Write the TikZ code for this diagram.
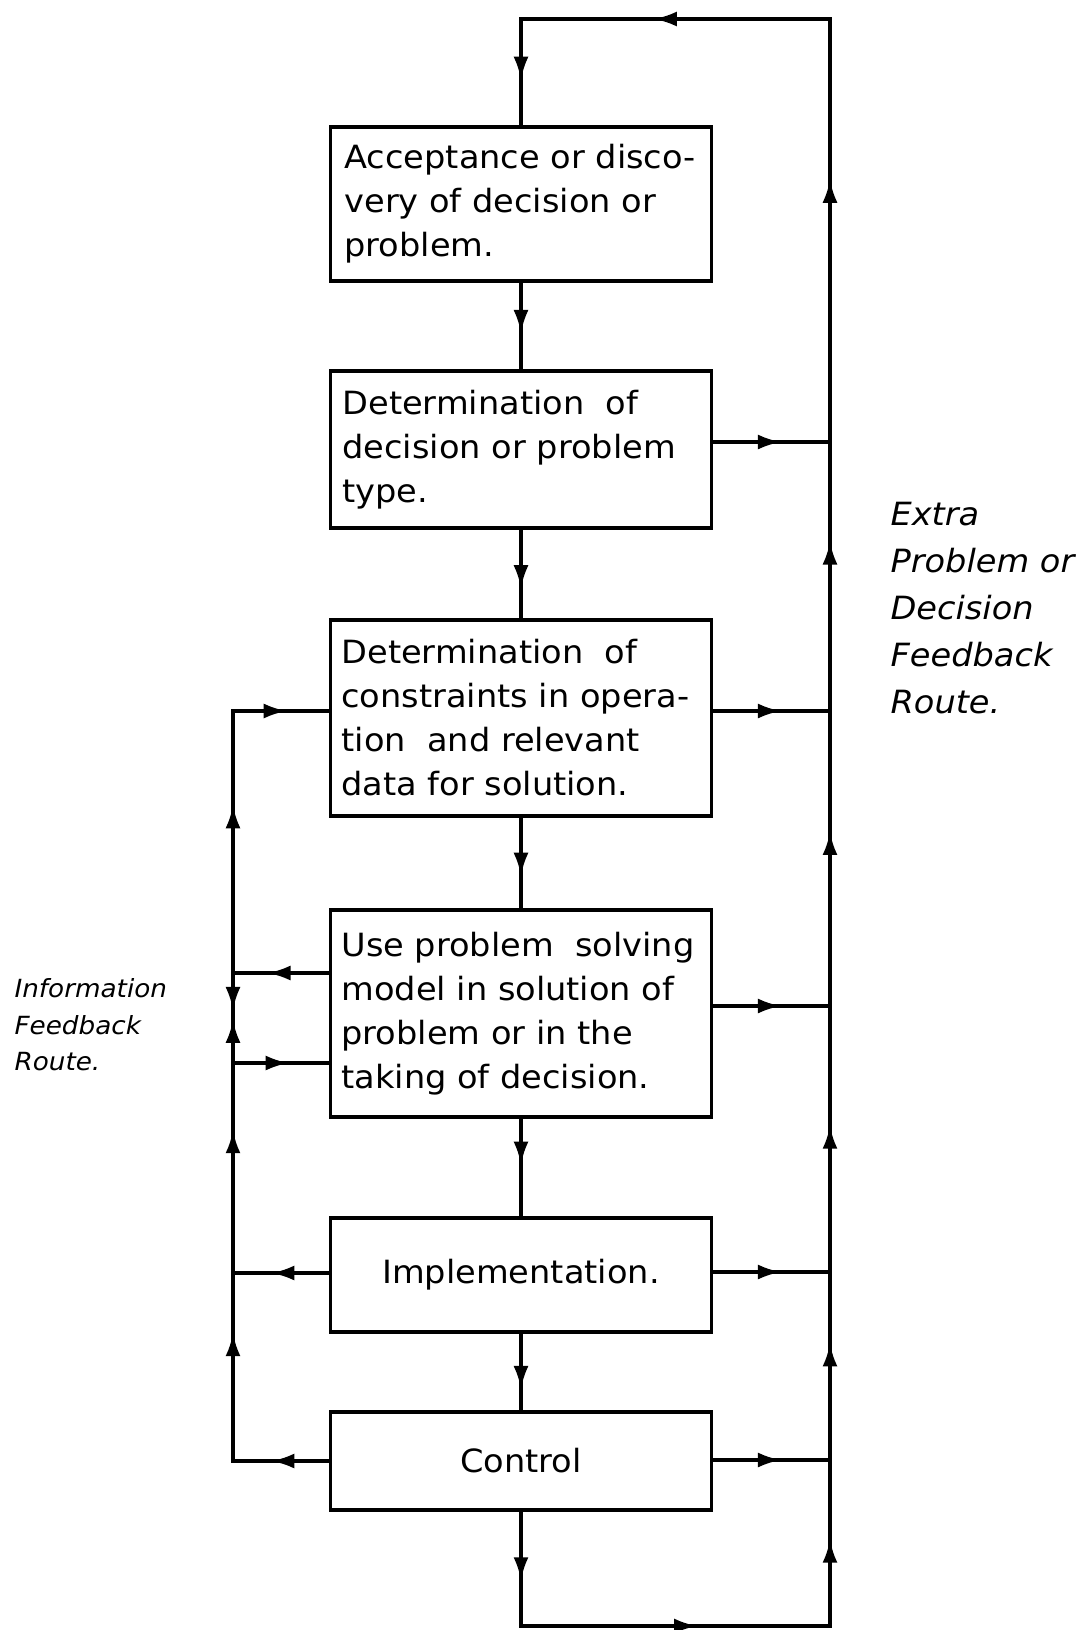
\documentclass[tikz,border=0pt]{standalone}
\usepackage{fontspec}
\setmainfont{DejaVu Sans}[FakeStretch=1.05]
\usetikzlibrary{arrows.meta,decorations.markings}

\begin{document}
\begin{tikzpicture}[x=0.5pt,y=-0.5pt,line width=1.6pt,
  box/.style={draw, rectangle, minimum width=190.5pt, inner sep=0pt,
    font=\fontsize{16pt}{22pt}\selectfont},
  boxtext/.style={anchor=west, align=left, inner sep=0pt,
    font=\fontsize{16pt}{22pt}\selectfont},
  link/.style={line cap=rect},
  arr/.style={link, postaction={decorate},
    decoration={markings,
      mark=at position #1 with {\arrow{Latex[length=11.5pt,width=7.5pt]}}}},
]
\useasboundingbox (0,0) rectangle (1084,1630);

% process boxes
\node[box, minimum height=77pt]   (b1) at (521,204)    {};
\node[box, minimum height=78.5pt] (b2) at (521,449.5)  {};
\node[box, minimum height=98pt]   (b3) at (521,718)    {};
\node[box, minimum height=103.5pt](b4) at (521,1013.5) {};
\node[box, minimum height=57pt]   (b5) at (521,1275)   {Implementation.};
\node[box, minimum height=49pt]   (b6) at (521,1461)   {Control};

\node[boxtext] (t1) at ([xshift=7pt]b1.west)
  {Acceptance or disco-\\very of decision or\\problem.};
\node[boxtext] (t2) at ([xshift=6pt]b2.west)
  {Determination\ \ of\\decision or problem\\type.};
\node[boxtext] (t3) at ([xshift=5.5pt]b3.west)
  {Determination\ \ of\\constraints in opera-\\tion\ \ and relevant\\data for solution.};
\node[boxtext] (t4) at ([xshift=5.5pt]b4.west)
  {Use problem\ \ solving\\model in solution of\\problem or in the\\taking of decision.};

% route labels
\node[anchor=north west, align=left, inner sep=0pt,
  font=\itshape\fontsize{16pt}{23.5pt}\selectfont] (extra) at (889,501)
  {Extra\\Problem or\\Decision\\Feedback\\Route.};
\node[anchor=north west, align=left, inner sep=0pt,
  font=\itshape\fontsize{12.5pt}{18.3pt}\selectfont] (info) at (13,977)
  {Information\\Feedback\\Route.};

% corner and junction points
\coordinate (tl) at (521,19);
\coordinate (tr) at (830,19);
\coordinate (br) at (830,1626);
\coordinate (bl) at (521,1626);
\coordinate (r2) at (830,442);
\coordinate (r3) at (830,711);
\coordinate (r4) at (830,1006);
\coordinate (r5) at (830,1272);
\coordinate (r6) at (830,1460);
\coordinate (l3) at (233,711);
\coordinate (l4a) at (233,973);
\coordinate (lm) at (233,1015);
\coordinate (l4b) at (233,1063);
\coordinate (l5) at (233,1273);
\coordinate (l6) at (233,1461);

% main sequence
\draw[arr=0.57] (tl) -- (b1.north);
\draw[arr=0.58] (b1) -- (b2);
\draw[arr=0.66] (b2) -- (b3);
\draw[arr=0.64] (b3) -- (b4);
\draw[arr=0.47] (b4) -- (b5);
\draw[arr=0.72] (b5) -- (b6);
\draw[arr=0.6]  (b6.south) -- (bl);
\draw[arr=0.57] (bl) -- (br);

% extra problem or decision feedback route
\draw[arr=0.52] (br) -- (r6);
\draw[arr=0.62] (r6) -- (r5);
\draw[arr=0.55] (r5) -- (r4);
\draw[arr=0.59] (r4) -- (r3);
\draw[arr=0.63] (r3) -- (r2);
\draw[arr=0.62] (r2) -- (tr);
\draw[arr=0.57] (tr) -- (tl);
\draw[arr=0.58] (b2.east |- r2) -- (r2);
\draw[arr=0.58] (b3.east |- r3) -- (r3);
\draw[arr=0.58] (b4.east |- r4) -- (r4);
\draw[arr=0.58] (b5.east |- r5) -- (r5);
\draw[arr=0.58] (b6.east |- r6) -- (r6);

% information feedback route
\draw[arr=0.6]  (b6.west |- l6) -- (l6);
\draw[arr=0.6]  (b5.west |- l5) -- (l5);
\draw[arr=0.64] (b4.west |- l4a) -- (l4a);
\draw[arr=0.58] (l4b) -- (b4.west |- l4b);
\draw[arr=0.56] (l3) -- (b3.west |- l3);
\draw[arr=0.68] (l6) -- (l5);
\draw[arr=0.68] (l5) -- (l4b);
\draw[arr=0.9]  (l4b) -- (lm);
\draw[arr=0.88] (l4a) -- (lm);
\draw[arr=0.64] (l4a) -- (l3);
\end{tikzpicture}
\end{document}
